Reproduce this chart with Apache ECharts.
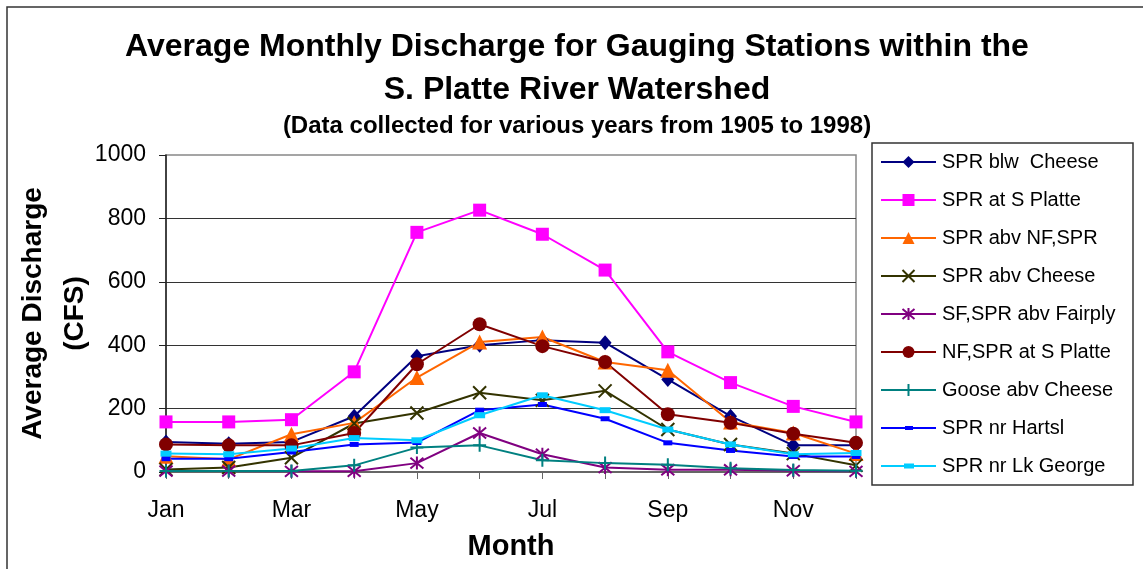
<!DOCTYPE html>
<html lang="en">
<head>
    <meta charset="utf-8"/>
    <title>Average Monthly Discharge - S. Platte River Watershed</title>
    <script type="text/javascript" src="https://cdn.jsdelivr.net/npm/echarts@6/dist/echarts.min.js"></script>
</head>
<body style="margin: 0;background: #fff">
<div id="chart" style="width: 1143px;height: 569px"></div>
<script>
    // months on the x axis
    const MONTHS = ['Jan', 'Feb', 'Mar', 'Apr', 'May', 'Jun', 'Jul', 'Aug', 'Sep', 'Oct', 'Nov', 'Dec'];

    // average discharge (CFS)
    const SPR_BLW_CHEESE = [95, 89, 95, 176, 365, 400, 416, 408, 292, 176, 84, 84];
    const SPR_AT_S_PLATTE = [158, 158, 165, 316, 756, 826, 750, 637, 379, 282, 207, 158];
    const SPR_ABV_NF = [50, 40, 119, 155, 298, 410, 426, 347, 321, 158, 123, 58];
    const SPR_ABV_CHEESE = [8, 14, 45, 153, 186, 250, 226, 256, 134, 87, 58, 21];
    const SF_ABV_FAIRPLY = [3, 3, 2, 2, 28, 123, 56, 14, 7, 7, 4, 2];
    const NF_AT_S_PLATTE = [87, 84, 84, 123, 340, 466, 397, 347, 182, 155, 121, 92];
    const GOOSE_ABV_CHEESE = [3, 3, 3, 21, 77, 84, 37, 28, 23, 12, 6, 4];
    const SPR_NR_HARTSL = [42, 42, 63, 87, 93, 195, 213, 168, 92, 68, 49, 49];
    const SPR_NR_LK_GEORGE = [58, 56, 74, 107, 100, 179, 242, 195, 134, 87, 56, 60];

    const FONT = '"Liberation Sans", Arial, sans-serif';

    // marker shapes that echarts does not have built in
    const X_MARK = 'path://M0,0L10,10M10,0L0,10';
    const STAR_MARK = 'path://M0,0L10,10M10,0L0,10M5,-1L5,11';
    const PLUS_MARK = 'path://M5,0L5,10M0,5L10,5';

    // legend icons for the two dash-marker series: line + small dash, in a 55x15 box
    const HARTSL_ICON = 'path://M0,0M55,15M0,6.5L55,6.5L55,8.5L0,8.5Z M24,5.5L32,5.5L32,9.5L24,9.5Z';
    const LK_GEORGE_ICON = 'path://M0,0M55,15M0,6.5L55,6.5L55,8.5L0,8.5Z M23,5L33,5L33,10L23,10Z';

    function lineSeries(name, data, color, symbol, size, stroked) {
        let s = {
            name: name,
            type: 'line',
            data: data,
            symbol: symbol,
            symbolSize: size,
            color: color,
            lineStyle: {color: color, width: 2},
            itemStyle: {color: color},
            emphasis: {disabled: true}
        };
        if (stroked) {
            s.itemStyle = {color: 'rgba(0,0,0,0)', borderColor: color, borderWidth: 2};
        }
        return s;
    }

    const SERIES = [
        lineSeries('SPR blw  Cheese', SPR_BLW_CHEESE, '#000080', 'diamond', [13, 15]),
        lineSeries('SPR at S Platte', SPR_AT_S_PLATTE, '#FF00FF', 'rect', 13),
        lineSeries('SPR abv NF,SPR', SPR_ABV_NF, '#FF6600', 'triangle', 15),
        lineSeries('SPR abv Cheese', SPR_ABV_CHEESE, '#333300', X_MARK, 13, true),
        lineSeries('SF,SPR abv Fairply', SF_ABV_FAIRPLY, '#800080', STAR_MARK, 13, true),
        lineSeries('NF,SPR at S Platte', NF_AT_S_PLATTE, '#800000', 'circle', 14),
        lineSeries('Goose abv Cheese', GOOSE_ABV_CHEESE, '#008080', PLUS_MARK, 13, true),
        lineSeries('SPR nr Hartsl', SPR_NR_HARTSL, '#0000FF', 'rect', [9, 5]),
        lineSeries('SPR nr Lk George', SPR_NR_LK_GEORGE, '#00CCFF', 'rect', [11, 6])
    ];

    let legendData = SERIES.map(function (s) {
        if (s.name === 'SPR nr Hartsl') return {name: s.name, icon: HARTSL_ICON};
        if (s.name === 'SPR nr Lk George') return {name: s.name, icon: LK_GEORGE_ICON};
        return {name: s.name};
    });

    let chart = echarts.init(document.getElementById('chart'));
    chart.setOption({
        animation: false,
        title: {
            text: 'Average Monthly Discharge for Gauging Stations within the\nS. Platte River Watershed',
            subtext: '(Data collected for various years from 1905 to 1998)',
            left: 577,
            textAlign: 'center',
            top: 26,
            padding: 0,
            itemGap: 1,
            textStyle: {fontFamily: FONT, fontSize: 32, fontWeight: 'bold', color: '#000', lineHeight: 43},
            subtextStyle: {fontFamily: FONT, fontSize: 24, fontWeight: 'bold', color: '#000', lineHeight: 26}
        },
        legend: {
            data: legendData,
            orient: 'vertical',
            left: 880,
            top: 152,
            padding: 0,
            itemWidth: 55,
            itemHeight: 15,
            itemGap: 18,
            selectedMode: false,
            textStyle: {fontFamily: FONT, fontSize: 20, color: '#000', lineHeight: 20, padding: [0, 0, 0, 1]}
        },
        grid: {
            left: 166,
            top: 155,
            width: 690,
            height: 317,
            outerBoundsMode: 'none',
            containLabel: false,
            show: true,
            borderColor: '#888',
            borderWidth: 1.5
        },
        xAxis: {
            type: 'category',
            data: MONTHS,
            boundaryGap: false,
            name: 'Month',
            nameLocation: 'middle',
            nameGap: 60,
            nameMoveOverlap: false,
            nameTextStyle: {fontFamily: FONT, fontSize: 29, fontWeight: 'bold', color: '#000'},
            axisLine: {lineStyle: {color: '#666', width: 2}},
            axisTick: {show: true, interval: 0, length: 7, lineStyle: {color: '#666'}},
            axisLabel: {interval: 1, margin: 27, fontFamily: FONT, fontSize: 23, color: '#000'},
            splitLine: {show: false}
        },
        yAxis: {
            type: 'value',
            min: 0,
            max: 1000,
            interval: 200,
            name: 'Average Discharge\n(CFS)',
            nameLocation: 'middle',
            nameGap: 70,
            nameMoveOverlap: false,
            nameTextStyle: {fontFamily: FONT, fontSize: 28, fontWeight: 'bold', color: '#000', lineHeight: 42},
            axisLine: {show: true, lineStyle: {color: '#222', width: 1.5}},
            axisTick: {show: true, length: 7, lineStyle: {color: '#222'}},
            axisLabel: {margin: 20, fontFamily: FONT, fontSize: 23, color: '#000', formatter: (v) => String(v)},
            splitLine: {show: true, showMinLine: false, showMaxLine: false, lineStyle: {color: '#333', width: 1}}
        },
        graphic: [
            // outer frame of the chart (runs off the right and bottom)
            {type: 'rect', shape: {x: 7, y: 7, width: 1300, height: 700},
                style: {fill: null, stroke: '#333', lineWidth: 1.5}, silent: true},
            // legend box
            {type: 'rect', shape: {x: 872, y: 143, width: 261, height: 342},
                style: {fill: null, stroke: '#333', lineWidth: 1.5}, silent: true}
        ],
        series: SERIES
    });
</script>
</body>
</html>
